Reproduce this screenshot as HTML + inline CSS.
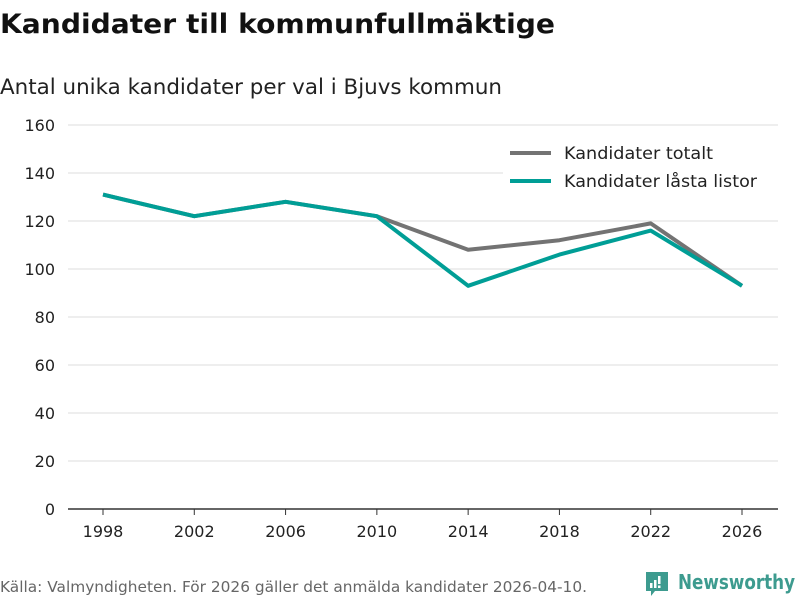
<!DOCTYPE html>
<html><head><meta charset="utf-8"><style>
body{margin:0;background:#fff;font-family:"DejaVu Sans","Liberation Sans",sans-serif;}
svg{display:block}
</style></head><body>
<svg width="800" height="600" viewBox="0 0 800 600" id="chart">
<text x="0" y="33" font-size="27" font-weight="bold" fill="#111" textLength="555" lengthAdjust="spacingAndGlyphs">Kandidater till kommunfullmäktige</text>
<text x="0" y="94" font-size="21" fill="#222" textLength="502" lengthAdjust="spacingAndGlyphs">Antal unika kandidater per val i Bjuvs kommun</text>
<g id="grid"></g><g id="lines"></g>
<g>
<rect x="503" y="140" width="275" height="58" fill="#fff"/>
<line x1="510" y1="153" x2="551" y2="153" stroke="#737373" stroke-width="4"/>
<text x="564" y="159" font-size="17" fill="#222" textLength="149" lengthAdjust="spacingAndGlyphs">Kandidater totalt</text>
<line x1="510" y1="181" x2="551" y2="181" stroke="#009e96" stroke-width="4"/>
<text x="564" y="187" font-size="17" fill="#222" textLength="193" lengthAdjust="spacingAndGlyphs">Kandidater låsta listor</text>
</g>
<text x="0" y="592" font-size="15" fill="#666" textLength="587" lengthAdjust="spacingAndGlyphs">Källa: Valmyndigheten. För 2026 gäller det anmälda kandidater 2026-04-10.</text>
<g>
<path d="M646 572h22v19h-13l-4 5v-5h-5z" fill="#3d9b8f"/>
<rect x="650" y="583" width="2.5" height="5" fill="#fff"/><rect x="654" y="580" width="2.5" height="8" fill="#fff"/><rect x="658" y="576" width="2.5" height="8" fill="#fff"/><rect x="658" y="585.5" width="2.5" height="2.5" fill="#fff"/>
<text x="678" y="589" font-size="20" font-weight="bold" fill="#3d9b8f" textLength="117" lengthAdjust="spacingAndGlyphs">Newsworthy</text>
</g>
</svg>
<script>
const years=["1998","2002","2006","2010","2014","2018","2022","2026"];
const totalt=[131,122,128,122,108,112,119,93];
const lasta=[131,122,128,122,93,106,116,93];
const yTicks=[0,20,40,60,80,100,120,140,160];
const NS="http://www.w3.org/2000/svg";
const x=i=>103+i*(742-103)/(years.length-1);
const y=v=>509-v*(509-125)/160;
const grid=document.getElementById('grid'),lines=document.getElementById('lines');
function mk(t,a,p){const e=document.createElementNS(NS,t);for(const k in a)e.setAttribute(k,a[k]);p.appendChild(e);return e;}
yTicks.forEach(v=>{
 if(v>0){const g=mk('line',{x1:68,x2:778,y1:y(v),y2:y(v),stroke:'#ddd','stroke-width':1},grid);
 
 }
 const t=mk('text',{x:55,y:y(v)+6,'font-size':16,fill:'#222','text-anchor':'end'},grid);t.textContent=v;
 
 
});
const ax=mk('line',{x1:68,x2:778,y1:509,y2:509,stroke:'#333','stroke-width':1.5},grid);


years.forEach((yr,i)=>{
 mk('line',{x1:x(i),x2:x(i),y1:509,y2:515,stroke:'#333'},grid);
 const t=mk('text',{x:x(i),y:537,'font-size':16,fill:'#222','text-anchor':'middle'},grid);t.textContent=yr;
 
 
});
function line(d,c,n){const p=mk('polyline',{points:d.map((v,i)=>x(i)+','+y(v)).join(' '),fill:'none',stroke:c,'stroke-width':4,'stroke-linejoin':'round'},lines);
 
 }
line(totalt,'#737373','line-totalt');
line(lasta,'#009e96','line-lasta-listor');
</script>
</body></html>
